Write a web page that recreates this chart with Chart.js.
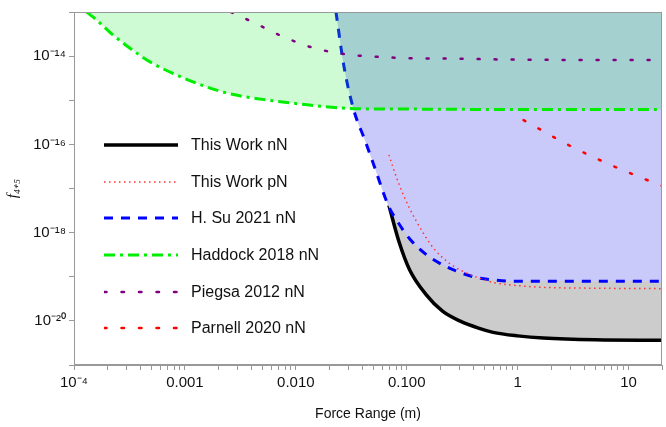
<!DOCTYPE html>
<html><head><meta charset="utf-8">
<script src="https://cdn.jsdelivr.net/npm/chart.js@4"></script>
<style>
body{margin:0;background:#fff;font-family:"Liberation Sans",Arial,sans-serif}
#wrap{position:relative;width:666px;height:427px}
#leg{position:absolute;left:104px;top:127px;font-size:16px;color:#111}
.row{height:36.6px;display:flex;align-items:center}
.row svg{width:76px;height:12px;margin-right:11px}
</style></head><body>
<div id="wrap"><canvas id="c" width="666" height="427"></canvas>
<div id="leg">
<div class="row"><svg><line x1="0" y1="6" x2="74" y2="6" stroke="#000" stroke-width="3.5"/></svg>This Work nN</div>
<div class="row"><svg><line x1="0" y1="6" x2="74" y2="6" stroke="#f33" stroke-width="1.5" stroke-dasharray="1.5,3.5"/></svg>This Work pN</div>
<div class="row"><svg><line x1="0" y1="6" x2="74" y2="6" stroke="#00f" stroke-width="3" stroke-dasharray="9,8"/></svg>H. Su 2021 nN</div>
<div class="row"><svg><line x1="0" y1="6" x2="74" y2="6" stroke="#0e0" stroke-width="3" stroke-dasharray="11,5,3,5"/></svg>Haddock 2018 nN</div>
<div class="row"><svg><line x1="0" y1="6" x2="74" y2="6" stroke="#800080" stroke-width="2.5" stroke-dasharray="2.5,15" stroke-linecap="round"/></svg>Piegsa 2012 nN</div>
<div class="row"><svg><line x1="0" y1="6" x2="74" y2="6" stroke="#f00" stroke-width="2.5" stroke-dasharray="2.5,15" stroke-linecap="round"/></svg>Parnell 2020 nN</div>
</div></div>
<script>
const xTickVals=[1e-4,1e-3,1e-2,1e-1,1,10];
const xTickLabels=["10⁻⁴","0.001","0.010","0.100","1","10"];
const yTickVals=[1e-14,1e-16,1e-18,1e-20];
const yTickLabels=["10⁻¹⁴","10⁻¹⁶","10⁻¹⁸","10⁻²⁰"];

const workN_x=[0.069,0.085,0.106,0.15,0.21,0.30,0.45,0.6,1.0,1.7,5,20];
const workN_y=[-17.38,-18.2,-18.84,-19.41,-19.78,-20.0,-20.17,-20.26,-20.34,-20.39,-20.43,-20.44];
const workP_x=[0.069,0.085,0.106,0.14,0.175,0.23,0.30,0.45,0.6,1.0,1.7,5,20];
const workP_y=[-16.24,-16.9,-17.45,-18.0,-18.36,-18.65,-18.84,-19.03,-19.13,-19.2,-19.24,-19.26,-19.27];
const su_x=[0.023,0.027,0.033,0.042,0.051,0.068,0.085,0.106,0.15,0.21,0.30,0.43,0.6,0.85,2,20];
const su_y=[-13.0,-14.2,-15.19,-15.91,-16.5,-17.38,-17.8,-18.14,-18.5,-18.73,-18.9,-19.02,-19.07,-19.1,-19.1,-19.1];
const had_x=[1.3e-4,1.6e-4,2.2e-4,3.4e-4,5e-4,8.3e-4,1.5e-3,2.6e-3,5e-3,0.0105,0.033,0.1,1,20];
const had_y=[-13.0,-13.18,-13.5,-13.87,-14.15,-14.42,-14.68,-14.86,-14.98,-15.08,-15.19,-15.2,-15.21,-15.21];
const pie_x=[0.0026,0.0045,0.0068,0.0092,0.0126,0.025,0.07,0.3,1,20];
const pie_y=[-13.0,-13.28,-13.5,-13.64,-13.77,-13.94,-14.03,-14.06,-14.08,-14.09];
const par_x=[1.13,2.8,6,12,20];
const par_y=[-15.45,-16.0,-16.4,-16.72,-16.94];

const pts=(xs,ys)=>xs.map((x,i)=>({x:x,y:Math.pow(10,ys[i])}));
const yMinor=[];for(let e=-21;e<=-13;e++)yMinor.push(Math.pow(10,e));
const xMinor=[];for(let e=-4;e<=1;e++)for(let m=1;m<=9;m++){const v=m*Math.pow(10,e);if(v<=20.0001)xMinor.push(v);}
const near=(a,b)=>Math.abs(Math.log10(a)-Math.log10(b))<1e-6;

const frame={id:'frame',afterDatasetsDraw(ch){const a=ch.chartArea,c=ch.ctx;c.save();c.strokeStyle='#999';c.lineWidth=1;c.strokeRect(a.left+0.5,a.top+0.5,a.right-a.left-1,a.bottom-a.top-1);c.restore();}};

new Chart(document.getElementById('c'),{
type:'line',
data:{datasets:[
{label:'This Work nN',data:pts(workN_x,workN_y),borderColor:'#000',borderWidth:3.5,fill:'end',backgroundColor:'rgb(204,204,204)',order:10},
{label:'This Work pN',data:pts(workP_x,workP_y),borderColor:'#f33',borderWidth:1.5,borderDash:[1.5,3.5],fill:false,order:2},
{label:'H. Su 2021 nN',data:pts(su_x,su_y),borderColor:'#00f',borderWidth:3,borderDash:[9,8],fill:'end',backgroundColor:'rgb(202,202,250)',order:9},
{label:'Haddock 2018 nN',data:pts(had_x,had_y),borderColor:'#00ee00',borderWidth:3,borderDash:[11,5,3,5],fill:'end',backgroundColor:'rgba(30,230,60,0.22)',order:8},
{label:'Piegsa 2012 nN',data:pts(pie_x,pie_y),borderColor:'#800080',borderWidth:2.5,borderDash:[2,15],borderCapStyle:'round',fill:false,order:1},
{label:'Parnell 2020 nN',data:pts(par_x,par_y),borderColor:'#f00',borderWidth:2.5,borderDash:[2,15],borderCapStyle:'round',fill:false,order:0}
].map(d=>Object.assign(d,{pointRadius:0,tension:0.3,cubicInterpolationMode:'monotone'}))},
options:{responsive:false,animation:false,layout:{padding:{top:-12,right:-6,left:0,bottom:0}},
plugins:{legend:{display:false},tooltip:{enabled:false}},
scales:{
x:{type:'logarithmic',min:1e-4,max:20,
 afterBuildTicks(s){s.ticks=xMinor.map(v=>({value:v}));},
 afterFit(s){s.height=62;},
 grid:{drawOnChartArea:false,tickLength:5,color:'#999'},border:{color:'#999'},
 ticks:{autoSkip:false,maxRotation:0,color:'#111',font:{size:15,family:'Liberation Sans'},padding:4,
  callback(v){const i=xTickVals.findIndex(t=>near(t,v));return i>=0?xTickLabels[i]:'';}},
 title:{display:true,text:'Force Range (m)',color:'#111',font:{size:14,family:'Liberation Sans'},padding:{top:8}}},
y:{type:'logarithmic',min:1e-21,max:1e-13,
 afterBuildTicks(s){s.ticks=yMinor.map(v=>({value:v}));},
 afterFit(s){s.width=74;},
 grid:{drawOnChartArea:false,tickLength:5,color:'#999'},border:{color:'#999'},
 ticks:{autoSkip:false,color:'#111',font:{size:15,family:'Liberation Sans'},padding:3,
  callback(v){const i=yTickVals.findIndex(t=>near(t,v));return i>=0?yTickLabels[i]:'';}},
 title:{display:true,text:'f₄₊₅',color:'#111',font:{size:15,style:'italic',family:'Liberation Serif'},padding:{bottom:2}}}
}},
plugins:[frame]});
</script></body></html>
